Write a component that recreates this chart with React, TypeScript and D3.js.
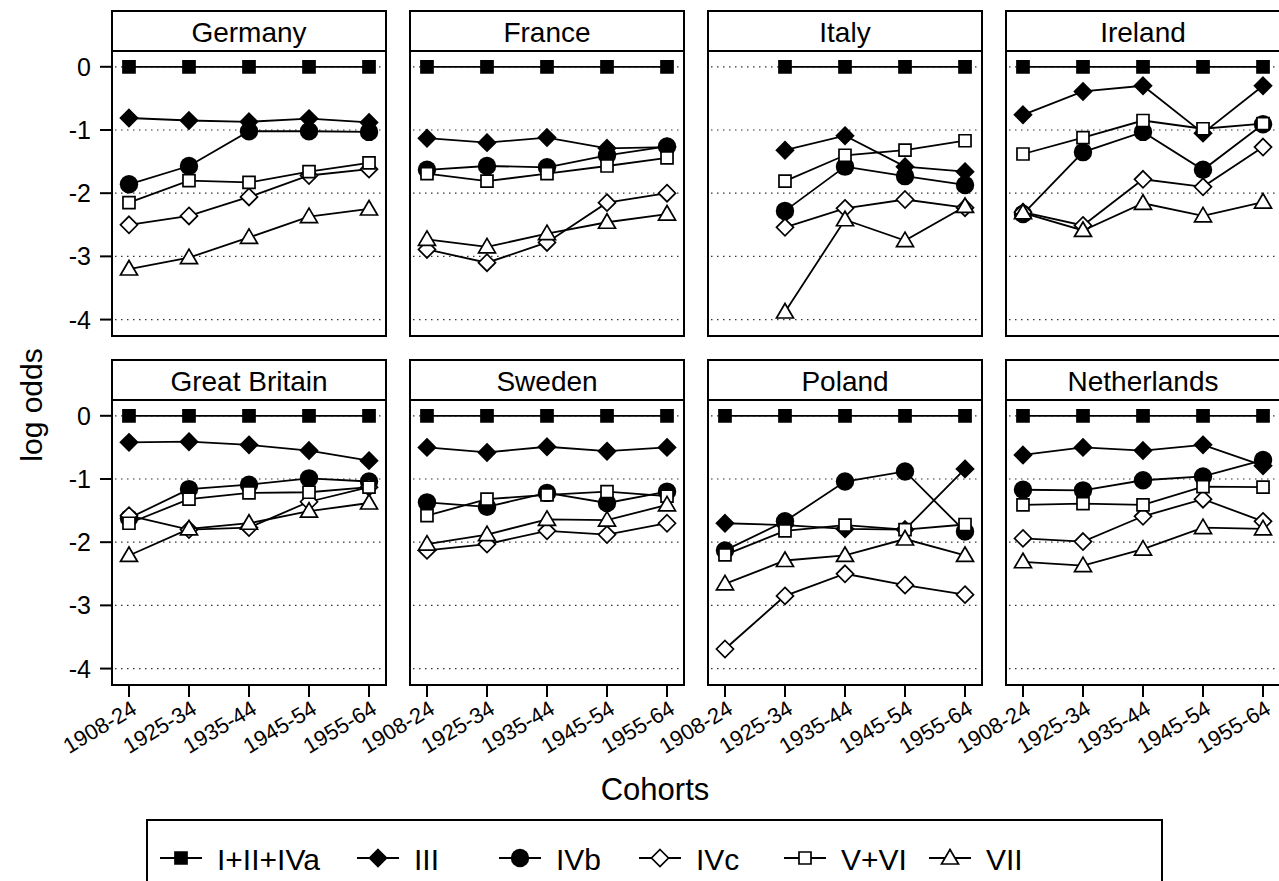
import React, { useEffect, useRef } from 'react';
import * as d3 from 'd3';

const cohorts = ['1908-24', '1925-34', '1935-44', '1945-54', '1955-64'];
const classes = ['I+II+IVa', 'III', 'IVb', 'IVc', 'V+VI', 'VII'];
const countries = ['Germany', 'France', 'Italy', 'Ireland', 'Great Britain', 'Sweden', 'Poland', 'Netherlands'];
const yTicks = [0, -1, -2, -3, -4];

// rows follow the order of classes, columns the order of cohorts
const germany = [
  [0, 0, 0, 0, 0],
  [-0.81, -0.85, -0.87, -0.82, -0.88],
  [-1.86, -1.57, -1.02, -1.02, -1.03],
  [-2.5, -2.36, -2.06, -1.72, -1.62],
  [-2.15, -1.8, -1.83, -1.66, -1.52],
  [-3.2, -3.02, -2.7, -2.37, -2.25],
];
const france = [
  [0, 0, 0, 0, 0],
  [-1.13, -1.2, -1.12, -1.29, -1.27],
  [-1.63, -1.57, -1.59, -1.4, -1.26],
  [-2.89, -3.1, -2.78, -2.15, -2.0],
  [-1.69, -1.81, -1.69, -1.57, -1.44],
  [-2.73, -2.85, -2.64, -2.46, -2.33],
];
const italy = [
  [null, 0, 0, 0, 0],
  [null, -1.32, -1.09, -1.58, -1.66],
  [null, -2.28, -1.58, -1.73, -1.87],
  [null, -2.54, -2.24, -2.1, -2.23],
  [null, -1.81, -1.4, -1.32, -1.17],
  [null, -3.88, -2.42, -2.75, -2.21],
];
const ireland = [
  [0, 0, 0, 0, 0],
  [-0.76, -0.39, -0.3, -1.05, -0.3],
  [-2.33, -1.35, -1.03, -1.63, -0.91],
  [-2.3, -2.51, -1.78, -1.9, -1.27],
  [-1.38, -1.12, -0.85, -0.98, -0.9],
  [-2.31, -2.59, -2.16, -2.36, -2.14],
];
const britain = [
  [0, 0, 0, 0, 0],
  [-0.42, -0.41, -0.46, -0.55, -0.71],
  [-1.62, -1.16, -1.09, -0.99, -1.04],
  [-1.58, -1.8, -1.77, -1.36, -1.13],
  [-1.7, -1.32, -1.22, -1.21, -1.13],
  [-2.21, -1.79, -1.7, -1.51, -1.38],
];
const sweden = [
  [0, 0, 0, 0, 0],
  [-0.5, -0.58, -0.49, -0.56, -0.5],
  [-1.37, -1.44, -1.22, -1.38, -1.2],
  [-2.13, -2.03, -1.82, -1.88, -1.7],
  [-1.58, -1.32, -1.25, -1.2, -1.27],
  [-2.03, -1.88, -1.64, -1.65, -1.41],
];
const poland = [
  [0, 0, 0, 0, 0],
  [-1.7, -1.73, -1.79, -1.8, -0.84],
  [-2.13, -1.67, -1.04, -0.88, -1.83],
  [-3.69, -2.85, -2.5, -2.68, -2.83],
  [-2.2, -1.82, -1.73, -1.8, -1.72],
  [-2.66, -2.29, -2.21, -1.95, -2.21],
];
const netherlands = [
  [0, 0, 0, 0, 0],
  [-0.62, -0.5, -0.55, -0.46, -0.79],
  [-1.17, -1.18, -1.02, -0.96, -0.7],
  [-1.94, -1.99, -1.59, -1.32, -1.67],
  [-1.41, -1.39, -1.41, -1.12, -1.13],
  [-2.31, -2.37, -2.11, -1.77, -1.79],
];
const panelValues = [germany, france, italy, ireland, britain, sweden, poland, netherlands];

const FONT = '"Liberation Sans", Arial, sans-serif';

// marker shape + fill for each class
const markers = [
  { shape: 'square', fill: '#000' },
  { shape: 'diamond', fill: '#000' },
  { shape: 'circle', fill: '#000' },
  { shape: 'diamond', fill: '#fff' },
  { shape: 'square', fill: '#fff' },
  { shape: 'triangle', fill: '#fff' },
];

const markerPath = (shape: string) => {
  if (shape === 'square') return 'M-6,-6H6V6H-6Z';
  if (shape === 'diamond') return 'M0,-8.5L8.5,0L0,8.5L-8.5,0Z';
  if (shape === 'triangle') return 'M0,-8.5L8.5,6L-8.5,6Z';
  return d3.symbol(d3.symbolCircle, Math.PI * 85)();
};

const drawMarker = (g: any, shape: string, fill: string, x: number, y: number) => {
  g.append('path')
    .attr('d', markerPath(shape))
    .attr('transform', `translate(${x},${y})`)
    .attr('fill', fill)
    .attr('stroke', '#000')
    .attr('stroke-width', shape === 'circle' ? 0 : 1.7);
};

const App = () => {
  const svgRef = useRef(null);
  const width = 1279;
  const height = 881;

  useEffect(() => {
    const svg = d3.select(svgRef.current);
    svg.selectAll('*').remove();

    const colLeft = [112, 410, 708, 1006];
    const panelW = 274;
    const stripTop = [11, 360];
    const stripH = 40;
    const plotH = 285;

    const x = d3.scalePoint().domain(cohorts).range([0, panelW]).padding(0.283);
    const y = d3.scaleLinear().domain([0.25, -4.26]).range([0, plotH]);

    countries.forEach((name, i) => {
      const row = Math.floor(i / 4);
      const col = i % 4;
      const left = colLeft[col];
      const top = stripTop[row] + stripH;

      // strip
      svg.append('rect')
        .attr('x', left).attr('y', stripTop[row])
        .attr('width', panelW).attr('height', stripH)
        .attr('fill', '#fff').attr('stroke', '#000').attr('stroke-width', 2);
      svg.append('text')
        .attr('x', left + panelW / 2).attr('y', stripTop[row] + stripH / 2 + 1)
        .attr('text-anchor', 'middle').attr('dominant-baseline', 'central')
        .style('font-family', FONT).style('font-size', '28px')
        .text(name);

      const g = svg.append('g').attr('transform', `translate(${left},${top})`);

      // dotted grid
      g.selectAll('line.grid')
        .data(yTicks)
        .enter()
        .append('line')
        .attr('x1', 3).attr('x2', panelW - 3)
        .attr('y1', d => y(d)).attr('y2', d => y(d))
        .attr('stroke', '#333').attr('stroke-width', 1.2)
        .attr('stroke-dasharray', '1.5,4.5');

      const values = panelValues[i];
      values.forEach((series, k) => {
        const pts = series
          .map((v, j) => ({ c: cohorts[j], v }))
          .filter(p => p.v !== null);
        const line = d3.line<any>().x(p => x(p.c)!).y(p => y(p.v));
        g.append('path')
          .attr('d', line(pts))
          .attr('fill', 'none').attr('stroke', '#000').attr('stroke-width', 1.8);
        pts.forEach(p => drawMarker(g, markers[k].shape, markers[k].fill, x(p.c)!, y(p.v)));
      });

      // frame
      g.append('rect')
        .attr('width', panelW).attr('height', plotH)
        .attr('fill', 'none').attr('stroke', '#000').attr('stroke-width', 2);

      // y axis on first column
      if (col === 0) {
        yTicks.forEach(t => {
          g.append('line')
            .attr('x1', -12).attr('x2', 0)
            .attr('y1', y(t)).attr('y2', y(t))
            .attr('stroke', '#000').attr('stroke-width', 2);
          g.append('text')
            .attr('x', -21).attr('y', y(t))
            .attr('text-anchor', 'end').attr('dominant-baseline', 'central')
            .style('font-family', FONT).style('font-size', '25px')
            .text(t);
        });
      }

      // x axis on bottom row
      if (row === 1) {
        cohorts.forEach(c => {
          g.append('line')
            .attr('x1', x(c)!).attr('x2', x(c)!)
            .attr('y1', plotH).attr('y2', plotH + 12)
            .attr('stroke', '#000').attr('stroke-width', 2);
          g.append('text')
            .attr('transform', `translate(${x(c)! + 1},${plotH + 14}) rotate(-31)`)
            .attr('text-anchor', 'end').attr('dy', '0.72em')
            .style('font-family', FONT).style('font-size', '22px')
            .text(c);
        });
      }
    });

    // axis titles
    svg.append('text')
      .attr('transform', 'translate(42,405) rotate(-90)')
      .attr('text-anchor', 'middle')
      .style('font-family', FONT).style('font-size', '30px')
      .text('log odds');
    svg.append('text')
      .attr('x', 655).attr('y', 800)
      .attr('text-anchor', 'middle')
      .style('font-family', FONT).style('font-size', '31px')
      .text('Cohorts');

    // legend
    const legendX = [181, 378, 520, 660, 805, 950];
    const ly = 858;
    svg.append('rect')
      .attr('x', 147).attr('y', 820)
      .attr('width', 1015).attr('height', 90)
      .attr('fill', '#fff').attr('stroke', '#000').attr('stroke-width', 2);
    classes.forEach((c, k) => {
      const lg = svg.append('g');
      lg.append('line')
        .attr('x1', legendX[k] - 21).attr('x2', legendX[k] + 21)
        .attr('y1', ly).attr('y2', ly)
        .attr('stroke', '#000').attr('stroke-width', 2);
      drawMarker(lg, markers[k].shape, markers[k].fill, legendX[k], ly);
      lg.append('text')
        .attr('x', legendX[k] + 36).attr('y', ly + 1)
        .attr('dominant-baseline', 'central')
        .style('font-family', FONT).style('font-size', '30px')
        .text(c);
    });
  }, []);

  return (
    <svg
      ref={svgRef}
      width={width}
      height={height}
      style={{ position: 'absolute', left: 0, top: 0, background: '#fff' }}
    />
  );
};

export default App;
